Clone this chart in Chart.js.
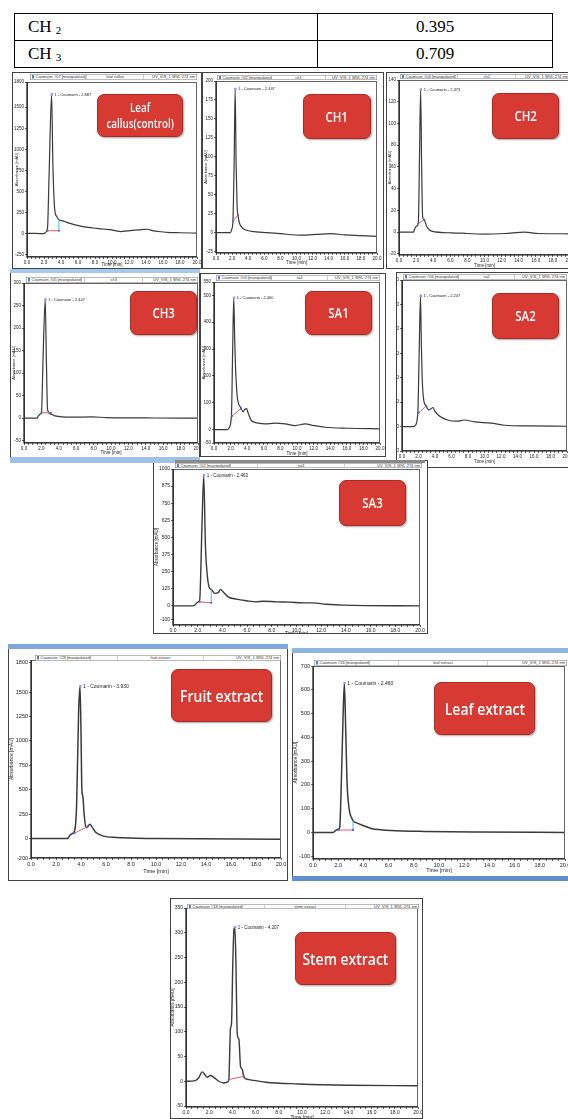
<!DOCTYPE html>
<html>
<head>
<meta charset="utf-8">
<script src="https://cdn.jsdelivr.net/npm/chart.js@4.4.1/dist/chart.umd.min.js"></script>
<style>
    body { margin: 0; width: 568px; height: 1119px; overflow: hidden; background: #fff; position: relative; font-family: "Liberation Sans", Arial, sans-serif; }
    .tbl { position: absolute; left: 14px; top: 13px; width: 539px; border-collapse: collapse; font-family: "Liberation Serif", "Times New Roman", serif; font-size: 17px; color: #000; }
    .tbl td { border: 1.5px solid #000; height: 27px; line-height: 24px; padding: 0 0 0 13px; box-sizing: border-box; }
    .tbl td.v { text-align: center; padding: 0; width: 235px; }
    .tbl sub { font-size: 11px; vertical-align: -2px; margin-left: 4px; line-height: 0; }
    .frame { position: absolute; background: #fff; border: 1px solid #444; overflow: hidden; box-sizing: border-box; }
    .frame canvas { position: absolute; }
    .hdr { position: absolute; transform: scale( 0.5 ); transform-origin: 0 0; display: flex; border: 1px solid #777; background: #fff; font-size: 8px; color: #333; box-sizing: border-box; white-space: nowrap; overflow: hidden; }
    .hdr span { display: block; padding: 0 3px; border-right: 1px solid #999; line-height: 10px; overflow: hidden; }
    .hdr span.a { width: 32%; }
    .hdr span.b { flex: 1; text-align: center; }
    .hdr span.c { width: 30%; text-align: right; border-right: 0; }
    .hdr i { display: inline-block; width: 4px; height: 7px; background: #4d7fd6; margin-right: 3px; vertical-align: -1px; }
    .tag { position: absolute; background: #d63a33; border: 1px solid #a92b27; border-radius: 7px; box-shadow: 1px 1px 2px rgba( 0, 0, 0, 0.35 ); color: #fff; display: flex; align-items: center; justify-content: center; text-align: center; font-family: "Open Sans", sans-serif; font-weight: 600; box-sizing: border-box; }
    .tag div { transform: scaleX( 0.82 ); white-space: nowrap; }
    .strip { position: absolute; }
</style>
</head>
<body>

<table class="tbl" id="tbl"></table>

<script>

/**
 * table data
 */

const tableNames = [ 'CH', 'CH' ];
const tableSubs = [ '2', '3' ];
const tableValues = [ '0.395', '0.709' ];

/**
 * chromatogram data: [ time (min), absorbance (mAU) ]
 */

const timeLabels = [ 0, 2, 4, 6, 8, 10, 12, 14, 16, 18, 20 ];

const leafCallusTrace = [ [0,0],[1,0],[2,-2],[2.2,15],[2.41,60],[2.6,700],[2.89,1650],[3.05,800],[3.25,300],[3.5,200],[3.8,160],[4.2,150],[4.6,135],[5.06,120],[6.2,90],[7,75],[8.2,60],[9.2,50],[9.8,45],[10.5,30],[11,22],[11.8,30],[12.6,40],[13.5,45],[14.1,50],[14.9,30],[15.8,20],[16.5,12],[18,8],[20,4] ];
const leafCallusBase = [ [2.41,32],[3.75,32] ];
const leafCallusDrop = [ [3.75,32],[3.75,150] ];
const leafCallusTicks = [ -250, 0, 250, 500, 750, 1000, 1250, 1500, 1800 ];
const leafCallusRange = [ -280, 1800 ];

const ch1Trace = [ [0,0],[1.8,0],[1.95,4],[2.1,15],[2.25,90],[2.38,189],[2.5,90],[2.62,35],[2.72,23],[2.93,12],[3.3,6],[3.77,3],[5,1],[6.3,0],[8,-1.5],[10.5,-3.5],[12.5,-2.5],[14.2,-1.3],[16,-3],[18,-4],[20,-5] ];
const ch1Base = [ [2.1,15],[2.72,23] ];
const ch1Ticks = [ -25, 0, 25, 50, 75, 100, 125, 150, 175, 200 ];
const ch1Range = [ -27, 200 ];

const ch2Trace = [ [0,0],[1.7,0],[1.8,2.4],[2.06,5.5],[2.26,8],[2.4,70],[2.53,131],[2.65,60],[2.76,14.5],[2.96,11],[3.23,5.5],[3.81,1],[6.15,-0.6],[8,-1.2],[10,-1.8],[12.4,-1.2],[14.7,0],[16.3,-1.2],[20,-1.5] ];
const ch2Base = [ [2.26,8],[2.96,11.5] ];
const ch2Ticks = [ -20, 0, 20, 40, 60, 80, 100, 120, 140 ];
const ch2Range = [ -21, 140 ];

const ch3Trace = [ [0,0],[1.5,0],[1.62,3.7],[1.9,9.6],[2.01,12.6],[2.2,140],[2.44,263],[2.58,120],[2.71,18.5],[3.1,9],[3.56,5],[5.49,2.2],[7.8,3],[9.5,1.5],[11.3,0.7],[15,0.5],[20,0] ];
const ch3Base = [ [2.01,12],[3.1,12] ];
const ch3Ticks = [ -50, 0, 50, 100, 150, 200, 250, 300 ];
const ch3Range = [ -55, 300 ];

const sa1Trace = [ [0,0],[1.6,0],[1.78,5],[2.1,51],[2.25,300],[2.38,490],[2.5,330],[2.59,235],[2.79,125],[2.99,94],[3.23,82],[3.52,66],[3.72,76],[3.92,78],[4.12,61],[4.53,33],[5.33,24],[6.14,21],[7.35,24],[8.57,21],[9.78,15],[11,21],[12,15],[13.4,8.6],[16.2,5],[20,2.5] ];
const sa1Base = [ [2.18,51],[3.23,78] ];
const sa1Ticks = [ -50, 0, 100, 200, 300, 400, 500, 550 ];
const sa1Range = [ -50, 550 ];

const sa2Trace = [ [0,0],[1.4,0],[1.63,5.5],[1.92,57],[2.08,300],[2.24,534],[2.35,330],[2.45,195],[2.65,105],[2.9,85],[3.27,68],[3.55,74],[3.76,78],[3.96,64],[4.49,44],[5.5,27],[6.7,22],[7.55,27],[8.78,19],[10.8,14],[12.45,5.5],[15.3,2.7],[20,1.4] ];
const sa2Base = [ [2.04,57],[2.94,85] ];
const sa2Ticks = [ -100, 0, 100, 200, 300, 400, 500, 600 ];
const sa2Range = [ -100, 600 ];

const sa3Trace = [ [0,0],[1.6,0],[1.76,5],[2.03,29],[2.16,42],[2.35,600],[2.49,953],[2.62,458],[2.76,238],[2.97,127],[3.1,120],[3.38,91],[3.65,96],[3.86,120],[4.05,103],[4.46,66],[5.14,49],[5.95,37],[6.76,29],[7.3,34],[8.38,29],[9.46,27],[10.54,22],[11.35,22],[12.4,12],[13.8,5],[20,0] ];
const sa3Base = [ [2.16,29],[3.1,22] ];
const sa3Drop = [ [3.1,22],[3.1,120] ];
const sa3Ticks = [ -100, 0, 125, 250, 375, 500, 625, 750, 875, 1000 ];
const sa3Range = [ -140, 1000 ];

const fruitTrace = [ [0,0],[2.9,0],[3.2,44],[3.47,71],[3.65,350],[3.81,1300],[3.92,1558],[4.0,1100],[4.07,500],[4.15,430],[4.25,250],[4.4,112],[4.53,122],[4.72,146],[4.88,119],[5.2,61],[5.73,27],[6.8,10],[10,0],[20,-7] ];
const fruitBase = [ [3.47,54],[4.53,122] ];
const fruitTicks = [ -200, 0, 250, 500, 750, 1000, 1250, 1500, 1800 ];
const fruitRange = [ -200, 1830 ];

const leafExtractTrace = [ [0,0],[1.6,0],[1.78,7],[2.04,14],[2.12,20],[2.25,214],[2.39,494],[2.49,627],[2.6,424],[2.7,214],[2.86,102],[3.1,57],[3.18,49],[3.5,39],[4.03,28],[4.69,15],[5.36,11],[6.15,8],[8.8,4],[13,1.4],[20,0] ];
const leafExtractBase = [ [2.04,10],[3.18,10] ];
const leafExtractDrop = [ [3.18,10],[3.18,49] ];
const leafExtractTicks = [ -100, 0, 100, 200, 300, 400, 500, 600, 700 ];
const leafExtractRange = [ -112, 700 ];

const stemTrace = [ [0,0],[0.8,1.4],[1.1,7],[1.39,19],[1.62,13.5],[1.82,8],[2.1,11.5],[2.4,8],[2.83,0],[3.26,-3.4],[3.55,-2],[3.69,3.4],[3.84,108],[3.92,115],[4.04,244],[4.13,305],[4.21,311],[4.3,244],[4.42,95],[4.56,85],[4.7,30],[4.85,24],[4.99,8],[5.43,3.4],[6.87,-2],[9.75,-5.4],[14.1,-8],[20,-9] ];
const stemBase = [ [3.69,3.4],[4.99,10] ];
const stemTicks = [ -50, 0, 50, 100, 150, 200, 250, 300, 350 ];
const stemRange = [ -52, 350 ];

/**
 * texts
 */

const tagNames = [ 'Leaf<br>callus(control)', 'CH1', 'CH2', 'CH3', 'SA1', 'SA2', 'SA3', 'Fruit extract', 'Leaf extract', 'Stem extract' ];
const peakNames = [ '1 - Coumarin - 2.887', '1 - Coumarin - 2.447', '1 - Coumarin - 2.473', '1 - Coumarin - 2.447', '1 - Coumarin - 2.400', '1 - Coumarin - 2.247', '1 - Coumarin - 2.463', '1 - Coumarin - 3.930', '1 - Coumarin - 2.460', '1 - Coumarin - 4.207' ];
const sampleNames = [ 'leaf callus', 'ch1', 'ch2', 'ch3', 'sa1', 'sa2', 'sa3', 'fruit extract', 'leaf extract', 'stem extract' ];
const injectNames = [ 'Coumarin #07 [manipulated]', 'Coumarin #02 [manipulated]', 'Coumarin #04 [manipulated]', 'Coumarin #05 [manipulated]', 'Coumarin #03 [manipulated]', 'Coumarin #06 [manipulated]', 'Coumarin #02 [manipulated]', 'Coumarin #28 [manipulated]', 'Coumarin #26 [manipulated]', 'Coumarin #18 [manipulated]' ];
const channelName = 'UV_VIS_1 WVL:274 nm';

/**
 * table
 */

let tbl = document.getElementById( 'tbl' );

tableNames.forEach( ( n, i ) => {

    let tr = document.createElement( 'tr' );
    tr.innerHTML = '<td>' + n + '<sub>' + tableSubs[ i ] + '</sub></td><td class="v">' + tableValues[ i ] + '</td>';
    tbl.appendChild( tr );

} );

/**
 * panel layout (page pixels)
 */

const panels = [
    { frame: [ 12, 72, 202, 269 ], plot: [ 27, 82, 197, 257 ], hdr: [ 30, 74, 197, 80 ], tag: [ 97, 94, 86, 43 ], tf: 12, yw: 13, xh: 10, fs: 4.5, lw: 1.2, trace: leafCallusTrace, base: leafCallusBase, drop: leafCallusDrop, ticks: leafCallusTicks, range: leafCallusRange },
    { frame: [ 202, 72, 384, 269 ], plot: [ 216, 81, 377, 253 ], hdr: [ 217, 75, 377, 80 ], tag: [ 303, 94, 68, 45 ], tf: 14, yw: 13, xh: 12, fs: 4.5, lw: 1.2, trace: ch1Trace, base: ch1Base, ticks: ch1Ticks, range: ch1Range },
    { frame: [ 386, 72, 580, 269 ], plot: [ 399, 80, 570, 255 ], hdr: [ 400, 74, 570, 79 ], tag: [ 492, 93, 67, 46 ], tf: 14, yw: 12, xh: 13, fs: 4.5, lw: 1.2, trace: ch2Trace, base: ch2Base, ticks: ch2Ticks, range: ch2Range },
    { frame: [ 10, 272, 200, 461 ], plot: [ 24, 283, 198, 443 ], hdr: [ 26, 277, 198, 283 ], tag: [ 130, 291, 67, 44 ], tf: 14, yw: 13, xh: 12, fs: 4.5, lw: 1.2, trace: ch3Trace, base: ch3Base, ticks: ch3Ticks, range: ch3Range },
    { frame: [ 200, 273, 386, 457 ], plot: [ 214, 282, 380, 443 ], hdr: [ 216, 275, 380, 281 ], tag: [ 305, 291, 67, 44 ], tf: 14, yw: 13, xh: 13, fs: 4.5, lw: 1.2, trace: sa1Trace, base: sa1Base, ticks: sa1Ticks, range: sa1Range },
    { frame: [ 396, 272, 575, 468 ], plot: [ 402, 280, 567, 451 ], hdr: [ 403, 274, 567, 280 ], tag: [ 492, 293, 67, 46 ], tf: 14, yw: 13, xh: 13, fs: 4.5, lw: 1.2, trace: sa2Trace, base: sa2Base, ticks: sa2Ticks, range: sa2Range },
    { frame: [ 153, 460, 428, 634 ], plot: [ 173, 469, 420, 625 ], hdr: [ 175, 463, 422, 468 ], tag: [ 339, 480, 67, 46 ], tf: 14, yw: 19, xh: 12, fs: 5, lw: 1.4, trace: sa3Trace, base: sa3Base, drop: sa3Drop, ticks: sa3Ticks, range: sa3Range },
    { frame: [ 8, 646, 288, 881 ], plot: [ 31, 660, 281, 858 ], hdr: [ 35, 655, 281, 661 ], tag: [ 171, 669, 101, 53 ], tf: 17, yw: 22, xh: 17, fs: 5.5, lw: 1.5, trace: fruitTrace, base: fruitBase, ticks: fruitTicks, range: fruitRange },
    { frame: [ 292, 649, 570, 881 ], plot: [ 313, 666, 565, 859 ], hdr: [ 314, 660, 567, 666 ], tag: [ 434, 682, 101, 53 ], tf: 17, yw: 20, xh: 15, fs: 5.5, lw: 1.5, trace: leafExtractTrace, base: leafExtractBase, drop: leafExtractDrop, ticks: leafExtractTicks, range: leafExtractRange },
    { frame: [ 170, 898, 423, 1119 ], plot: [ 186, 908, 418, 1107 ], hdr: [ 187, 904, 419, 909 ], tag: [ 295, 932, 101, 53 ], tf: 17, yw: 16, xh: 14, fs: 5, lw: 1.4, trace: stemTrace, base: stemBase, ticks: stemTicks, range: stemRange }
];

/**
 * decorative window strips [ l, t, r, b, colour ]
 */

const strips = [
    [ 10, 269, 200, 273, '#a8c9ec' ],
    [ 10, 457, 200, 463, '#9fc1e6' ],
    [ 175, 460, 425, 463, '#8a8a8a' ],
    [ 8, 644, 288, 649, '#7fa7dc' ],
    [ 292, 648, 570, 653, '#8fb4e0' ],
    [ 292, 876, 570, 881, '#5f8fd0' ]
];

/**
 * plot frame + peak note
 */

const framePlugin = {
    id: 'plotFrame',
    afterDraw( chart, args, opts ) {

        let ctx = chart.ctx;
        let a = chart.chartArea;

        ctx.save();

        ctx.strokeStyle = '#666';
        ctx.lineWidth = 1;
        ctx.strokeRect( a.left + 0.5, a.top + 0.5, a.right - a.left - 1, a.bottom - a.top - 1 );

        ctx.strokeStyle = '#111';
        ctx.lineWidth = 1.2;
        ctx.beginPath();
        ctx.moveTo( a.left, a.top );
        ctx.lineTo( a.left, a.bottom );
        ctx.lineTo( a.right, a.bottom );
        ctx.stroke();

        let x = chart.scales.x.getPixelForValue( opts.x );
        let y = chart.scales.y.getPixelForValue( opts.y );

        ctx.fillStyle = '#9a9af2';
        ctx.fillRect( x - 1, y - 1.5, 2.5, 2.5 );

        ctx.fillStyle = '#222';
        ctx.font = opts.size + 'px "Liberation Sans", Arial, sans-serif';
        ctx.textBaseline = 'middle';
        ctx.fillText( opts.text, x + 3, y );

        ctx.restore();

    }
};

const M = 6;

function px( v ) { return v + 'px'; }

panels.forEach( ( p, i ) => {

    let [ fl, ft, fr, fb ] = p.frame;

    let frame = document.createElement( 'div' );
    frame.className = 'frame';
    Object.assign( frame.style, { left: px( fl ), top: px( ft ), width: px( fr - fl ), height: px( fb - ft ) } );
    document.body.appendChild( frame );

    let ox = fl + 1, oy = ft + 1;
    let [ pl, pt, pr, pb ] = p.plot;

    let cv = document.createElement( 'canvas' );
    let w = pr - pl + p.yw + 2 * M;
    let h = pb - pt + p.xh + 2 * M;
    cv.width = w;
    cv.height = h;
    Object.assign( cv.style, { left: px( pl - p.yw - M - ox ), top: px( pt - M - oy ), width: px( w ), height: px( h ) } );
    frame.appendChild( cv );

    /**
     * header bar
     */

    let hd = document.createElement( 'div' );
    hd.className = 'hdr';
    Object.assign( hd.style, { left: px( p.hdr[0] - ox ), top: px( p.hdr[1] - oy ), width: px( 2 * ( p.hdr[2] - p.hdr[0] ) ), height: px( 2 * ( p.hdr[3] - p.hdr[1] ) ) } );
    hd.innerHTML = '<span class="a"><i></i>' + injectNames[ i ] + '</span><span class="b">' + sampleNames[ i ] + '</span><span class="c">' + channelName + '</span>';
    frame.appendChild( hd );

    /**
     * red tag
     */

    let tg = document.createElement( 'div' );
    tg.className = 'tag';
    Object.assign( tg.style, { left: px( p.tag[0] - ox ), top: px( p.tag[1] - oy ), width: px( p.tag[2] ), height: px( p.tag[3] ), fontSize: px( p.tf ), lineHeight: px( p.tf + 4 ) } );
    tg.innerHTML = '<div>' + tagNames[ i ] + '</div>';
    frame.appendChild( tg );

    /**
     * datasets
     */

    let top = p.trace.reduce( ( a, b ) => b[1] > a[1] ? b : a );

    let datasets = [ {
        data: p.trace,
        borderColor: '#3a3a3a',
        borderWidth: p.lw,
        pointRadius: 0,
        cubicInterpolationMode: 'monotone',
        order: 3
    } ];

    if( p.drop ) {

        datasets.push( {
            data: p.drop,
            borderColor: '#35c8d8',
            borderWidth: 1,
            pointRadius: 0,
            order: 2
        } );

    }

    datasets.push( {
        data: p.base,
        borderColor: '#f25757',
        borderWidth: 1,
        pointRadius: 1.3,
        pointStyle: 'rect',
        pointBackgroundColor: '#5a5af0',
        pointBorderWidth: 0,
        order: 1
    } );

    new Chart( cv.getContext( '2d' ), {
        type: 'line',
        data: { datasets: datasets },
        plugins: [ framePlugin ],
        options: {
            responsive: false,
            maintainAspectRatio: false,
            animation: false,
            events: [],
            layout: { padding: M },
            plugins: {
                legend: { display: false },
                tooltip: { enabled: false },
                plotFrame: { x: top[0], y: top[1], text: peakNames[ i ], size: p.fs - 0.5 }
            },
            scales: {
                x: {
                    type: 'linear',
                    min: 0,
                    max: 20,
                    afterBuildTicks: ( s ) => {
                        let t = [];
                        for( let v = 0; v <= 20; v += 0.5 ) t.push( { value: v } );
                        s.ticks = t;
                    },
                    afterFit: ( s ) => {
                        s.height = p.xh;
                        s.paddingLeft = 0;
                        s.paddingRight = 0;
                    },
                    border: { display: false },
                    grid: { drawOnChartArea: false, tickLength: 2, color: '#222', lineWidth: 0.7 },
                    ticks: {
                        autoSkip: false,
                        maxRotation: 0,
                        padding: 1,
                        color: '#222',
                        font: { size: p.fs, family: '"Liberation Sans", Arial, sans-serif' },
                        callback: ( v ) => timeLabels.includes( v ) ? v.toFixed( 1 ) : ''
                    },
                    title: {
                        display: true,
                        text: 'Time [min]',
                        padding: 0,
                        color: '#222',
                        font: { size: p.fs, family: '"Liberation Sans", Arial, sans-serif' }
                    }
                },
                y: {
                    min: p.range[0],
                    max: p.range[1],
                    afterBuildTicks: ( s ) => {
                        s.ticks = p.ticks.map( v => ( { value: v } ) );
                    },
                    afterFit: ( s ) => {
                        s.width = p.yw;
                        s.paddingTop = 0;
                        s.paddingBottom = 0;
                    },
                    border: { display: false },
                    grid: { drawOnChartArea: false, tickLength: 2, color: '#222', lineWidth: 0.7 },
                    ticks: {
                        autoSkip: false,
                        padding: 1,
                        color: '#222',
                        font: { size: p.fs, family: '"Liberation Sans", Arial, sans-serif' },
                        callback: ( v ) => v
                    },
                    title: {
                        display: true,
                        text: 'Absorbance [mAU]',
                        padding: 0,
                        color: '#222',
                        font: { size: p.fs - 0.5, family: '"Liberation Sans", Arial, sans-serif' }
                    }
                }
            }
        }
    } );

} );

strips.forEach( s => {

    let d = document.createElement( 'div' );
    d.className = 'strip';
    Object.assign( d.style, { left: px( s[0] ), top: px( s[1] ), width: px( s[2] - s[0] ), height: px( s[3] - s[1] ), background: s[4] } );
    document.body.appendChild( d );

} );

</script>
</body>
</html>
